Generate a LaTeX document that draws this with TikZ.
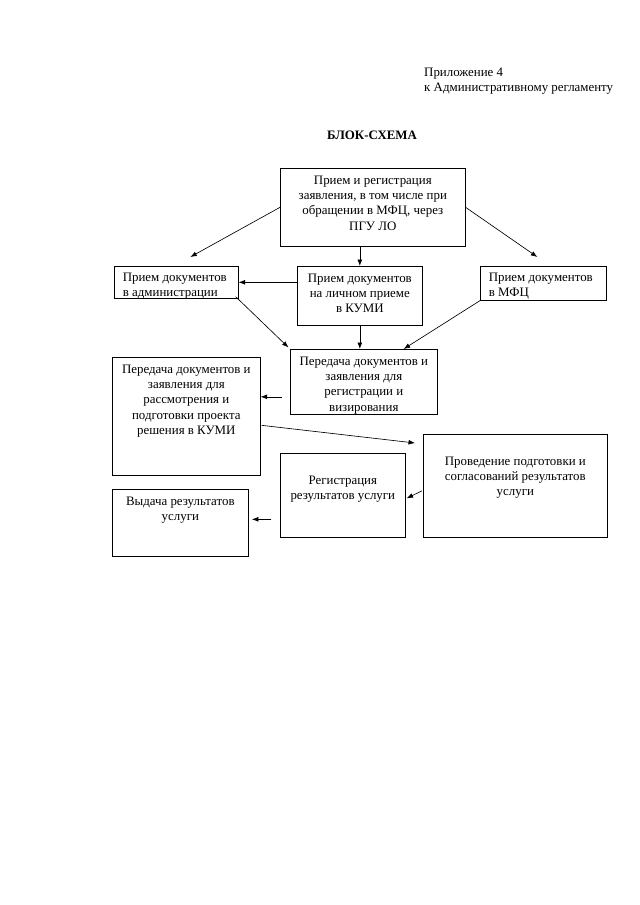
\documentclass[tikz,border=0pt]{standalone}
\usepackage{fontspec}
\setmainfont{Liberation Serif}
\usetikzlibrary{arrows.meta, calc}
\newcommand{\pxu}{0.93pt}

\begin{document}
\begin{tikzpicture}[x=0.93pt, y=-0.93pt]

    % Page
    \useasboundingbox (0,0) rectangle (640,905);
    \fontsize{12}{14.2}\selectfont

    % Boxes and their texts
    \tikzset{bx/.style={draw, rectangle, line width = 0.6pt, inner sep = 0pt, anchor = north west}}
    \tikzset{sz/.style 2 args={minimum width = #1*\pxu, minimum height = #2*\pxu}}
    \tikzset{tx/.style={anchor = north, align = center, inner sep = 1pt, yshift = -6pt}}
    \tikzset{txl/.style={anchor = north west, align = left, inner sep = 1pt, xshift = 7pt, yshift = -5pt}}

    % Arrows
    \tikzset{ar/.style={-{Latex[length = 6pt, width = 4.5pt]}, line width = 0.6pt}}

    % Header
    \node (app) [anchor = north west, align = left, inner sep = 0pt] at (424,68) {Приложение 4\\к Административному регламенту};
    \node (ttl) [font = \bfseries] at (372,135) {БЛОК-СХЕМА};

    % First row
    \node (top) [bx, sz={185}{78}, label={[tx]north:{Прием и регистрация\\заявления, в том числе при\\обращении в МФЦ, через\\ПГУ ЛО}}] at (280,168) {};
    	\node (adm) [bx, sz={124}{32}, label={[txl]north west:{Прием документов\\в администрации}}] at (114,266) {};
    	\node (kumi) [bx, sz={125}{59}, label={[tx]north:{Прием документов\\на личном приеме\\в КУМИ}}] at (297,266) {};
    	\node (mfc) [bx, sz={126}{34}, label={[txl]north west:{Прием документов\\в МФЦ}}] at (480,266) {};

    % Second row
    \node (reg) [bx, sz={147}{65}, label={[tx]north:{Передача документов и\\заявления для\\регистрации и\\визирования}}] at (290,349) {};
    \node (per) [bx, sz={148}{118}, label={[tx]north:{Передача документов и\\заявления для\\рассмотрения и\\подготовки проекта\\решения в КУМИ}}] at (112,357) {};

    % Third row
    \node (prov) [bx, sz={184}{103}, label={[tx, yshift = -14pt]north:{Проведение подготовки и\\согласований результатов\\услуги}}] at (423,434) {};
    \node (rg) [bx, sz={125}{84}, label={[tx, yshift = -14pt]north:{Регистрация\\результатов услуги}}] at (280,453) {};
    \node (vyd) [bx, sz={136}{67}, label={[tx]north:{Выдача результатов\\услуги}}] at (112,489) {};

    % Connectors
    \draw[ar] (top.west) -- ($(adm.north)+(14,-9)$);
    \draw[ar] (top.east) -- ($(mfc.north)+(-6,-9)$);
    \draw[ar] (kumi.north |- top.south) -- (kumi.north);
    \draw[ar] (kumi.west |- adm.east) -- (adm.east);
    \draw[ar, shorten >= 2pt] ($(adm.south east)+(-3,-2)$) -- (reg.north west);
    \draw[ar] (kumi.south) -- (kumi.south |- reg.north);
    \draw[ar] (mfc.south west) -- ($(reg.north east)+(-34,0)$);
    \draw[ar] ($(reg.west)+(-8,15)$) coordinate (r1) -- (r1 -| per.east);
    \draw[ar] ($(per.east)+(1,9)$) -- ($(prov.north west)+(-8,9)$);
    \draw[ar] ($(prov.west)+(-1,5)$) -- ($(rg.east)+(1,3)$);
    \draw[ar, shorten >= 3pt] ($(rg.west)+(-9,24)$) coordinate (g1) -- (g1 -| vyd.east);

\end{tikzpicture}
\end{document}
